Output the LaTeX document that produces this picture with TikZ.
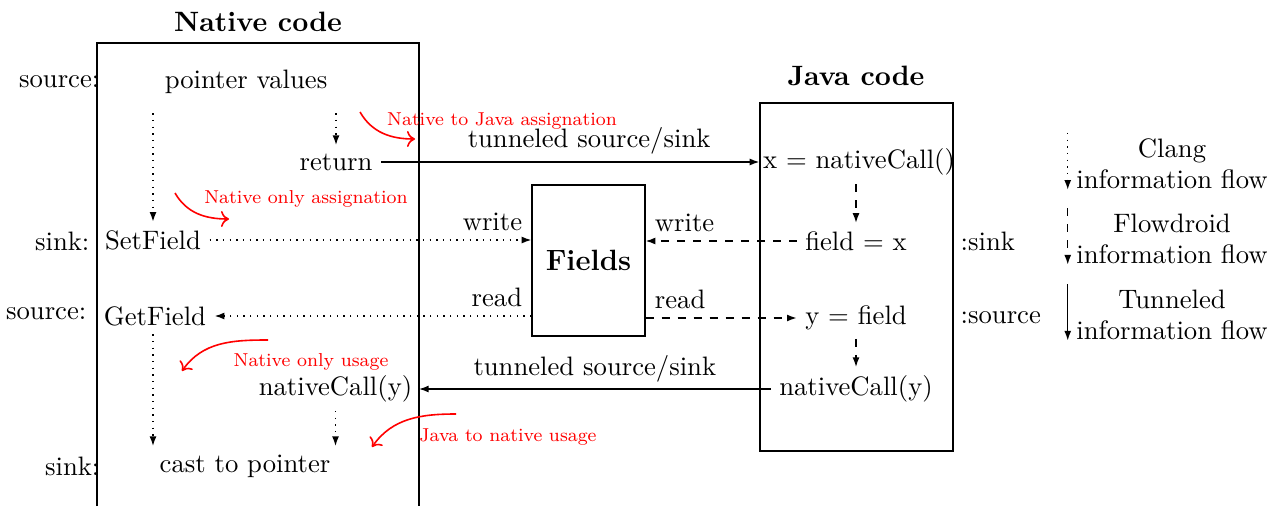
\documentclass[tikz,border=0pt]{standalone}
\usetikzlibrary{arrows.meta}
\newcommand\rednotetext[1]{\scalebox{0.9}{#1}}
\begin{document}
\begin{tikzpicture}[x=0.375pt,y=-0.375pt,
  >={Latex[length=3.6pt,width=2.6pt]},
  every path/.style={line width=0.5pt},
  txt/.style={inner sep=3pt,font=\fontsize{10}{11.6}\selectfont},
  lbl/.style={inner sep=0pt,font=\fontsize{10}{11.6}\selectfont},
  ttl/.style={inner sep=0pt,font=\fontsize{10.5}{12}\selectfont\bfseries},
  note/.style={inner sep=0pt,text=red,font=\fontsize{7.8}{9}\selectfont},
  notearrow/.style={draw=red,-{To[length=3pt,width=6pt]},line width=0.6pt},
  boxnode/.style={draw,line width=0.5pt,inner sep=0pt}]
\useasboundingbox (0,0) rectangle (1282,506);

% titles
\node[ttl] (ntitle) at (258,22) {Native code};
\node[ttl] (jtitle) at (856,76) {Java code};

% native box (open at bottom)
\coordinate (nbl) at (97,506);
\coordinate (nbr) at (419,43);
\draw (97,506) -- (97,43) -- (419,43) -- (419,506);

% java box
\node[boxnode,minimum width=72.4pt,minimum height=130.5pt] (java) at (856.5,277) {};

% fields box
\node[boxnode,minimum width=42.4pt,minimum height=56.6pt,font=\fontsize{11}{12}\selectfont\bfseries] (fields) at (588.5,260.5) {Fields};

% native texts
\node[txt] (pv) at (246,82) {pointer values};
\node[txt] (ret) at (336,162) {return};
\node[txt] (sf) at (153,240) {SetField};
\node[txt] (gf) at (155,316) {GetField};
\node[txt] (ncn) at (335.5,389) {nativeCall(y)};
\node[txt] (cast) at (245,466) {cast to pointer};

\node[lbl,anchor=east] (l1) at (100,82) {source:};
\node[lbl,anchor=east] (l2) at (90,241) {sink:};
\node[lbl,anchor=east] (l3) at (87,314) {source:};
\node[lbl,anchor=east] (l4) at (100,466) {sink:};

% java texts
\node[txt] (xcall) at (859,162) {x = nativeCall()};
\node[txt] (fx) at (856,241) {field = x};
\node[txt] (yf) at (856,318) {y = field};
\node[txt] (ncj) at (856,389) {nativeCall(y)};
\node[lbl,anchor=west] (r1) at (960,241) {:sink};
\node[lbl,anchor=west] (r2) at (960,318) {:source};

% tunneled flows
\draw[->] (ret.east) -- (ret.east -| java.west)
  node[txt,pos=0.55,above,inner sep=2.5pt] {tunneled source/sink};
\draw[->] (ncj.west) -- (ncj.west -| nbr)
  node[txt,pos=0.5,above,inner sep=2.5pt] {tunneled source/sink};

% field accesses
\draw[dotted,->] (sf.east) -- (sf.east -| fields.west)
  node[txt,pos=1,above left,inner sep=3.2pt] {write};
\draw[dotted,->] (fields.west |- gf) -- (gf.east)
  node[txt,pos=0,above left,inner sep=3.2pt] {read};
\draw[dashed,->] (fx.west) -- (fx.west -| fields.east)
  node[txt,pos=1,above right,inner sep=3.2pt] {write};
\draw[dashed,->] (fields.east |- yf) -- (yf.west)
  node[txt,pos=0,above right,inner sep=3.2pt] {read};

% clang flows
\draw[dotted,->,shorten <=4pt] (sf |- pv.south) -- (sf.north);
\draw[dotted,->,shorten <=4pt] (ret |- pv.south) -- (ret.north);
\draw[dotted,->] (gf.south -| sf) -- (sf |- cast.north);
\draw[dotted,->] (ncn.south) -- (ncn |- cast.north);

% flowdroid flows
\draw[dashed,->] (xcall.south -| fx) -- (fx.north);
\draw[dashed,->] (yf.south) -- (ncj.north);

% red notes
\node[note] (n1) at (502,121) {\rednotetext{Native to Java assignation}};
\node[note] (n2) at (306,199) {\rednotetext{Native only assignation}};
\node[note] (n3) at (311,362) {\rednotetext{Native only usage}};
\node[note] (n4) at (508,437) {\rednotetext{Java to native usage}};
\coordinate (a1s) at (360,112); \coordinate (a1e) at (415,139);
\coordinate (a2s) at (175,193); \coordinate (a2e) at (229,219);
\coordinate (a3s) at (268,340); \coordinate (a3e) at (182,371);
\coordinate (a4s) at (456,414); \coordinate (a4e) at (372,447);
\draw[notearrow] (a1s) to[out=-60,in=180] (a1e);
\draw[notearrow] (a2s) to[out=-60,in=180] (a2e);
\draw[notearrow] (a3s) to[out=180,in=55] (a3e);
\draw[notearrow] (a4s) to[out=180,in=55] (a4e);

% legend
\node[txt,align=center] (lg1) at (1172,164) {Clang\\information flow};
\node[txt,align=center] (lg2) at (1172,239) {Flowdroid\\information flow};
\node[txt,align=center] (lg3) at (1172,315) {Tunneled\\information flow};
\draw[dotted,->,shorten <=1pt,shorten >=3pt] (lg1.north west) -- (lg1.south west);
\draw[dashed,->,shorten <=1pt,shorten >=3pt] (lg2.north west) -- (lg2.south west);
\draw[->,shorten <=1pt,shorten >=3pt] (lg3.north west) -- (lg3.south west);
\end{tikzpicture}
\end{document}
